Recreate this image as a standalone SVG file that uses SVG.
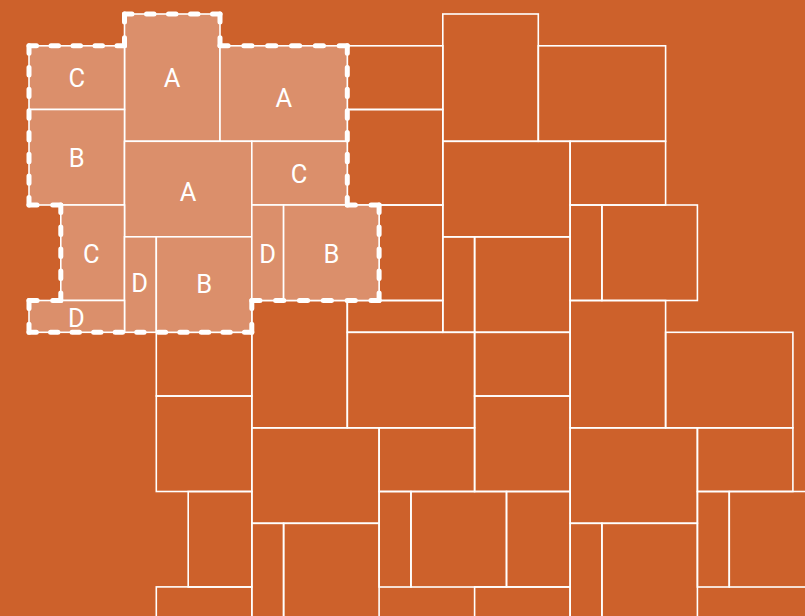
<svg xmlns="http://www.w3.org/2000/svg" width="805" height="616" viewBox="0 0 805 616">
  <style>
    .t { fill: none; stroke: #ffffff; stroke-width: 1.6; }
    .h { fill: #DB8F6B; stroke: #ffffff; stroke-width: 1.6; }
    .dash path { fill: none; stroke: #ffffff; stroke-width: 5; stroke-linecap: round; stroke-dasharray: 7.5 14.5; }
    .lbl { fill: #ffffff; font-family: Roboto, "Liberation Sans", sans-serif; font-size: 25.5px; text-anchor: middle; }
  </style>
  <rect x="0" y="0" width="805" height="616" fill="#CD612B"/>

  <g id="copy-10-0">
    <rect class="t" x="442.8" y="14" width="95.5" height="127.3"/>
    <rect class="t" x="538.3" y="45.8" width="127.3" height="95.5"/>
    <rect class="t" x="347.3" y="45.8" width="95.5" height="63.7"/>
    <rect class="t" x="347.3" y="109.5" width="95.5" height="95.5"/>
    <rect class="t" x="442.8" y="141.3" width="127.3" height="95.5"/>
    <rect class="t" x="570.1" y="141.3" width="95.5" height="63.7"/>
    <rect class="t" x="379.1" y="205" width="63.7" height="95.5"/>
    <rect class="t" x="442.8" y="236.8" width="31.8" height="95.5"/>
    <rect class="t" x="474.6" y="236.8" width="95.5" height="95.5"/>
    <rect class="t" x="570.1" y="205" width="31.8" height="95.5"/>
    <rect class="t" x="601.9" y="205" width="95.5" height="95.5"/>
    <rect class="t" x="347.3" y="300.5" width="95.5" height="31.8"/>
  </g>

  <g id="copy-4-9">
    <rect class="t" x="251.8" y="300.5" width="95.5" height="127.3"/>
    <rect class="t" x="347.3" y="332.3" width="127.3" height="95.5"/>
    <rect class="t" x="156.3" y="332.3" width="95.5" height="63.7"/>
    <rect class="t" x="156.3" y="396" width="95.5" height="95.5"/>
    <rect class="t" x="251.8" y="427.8" width="127.3" height="95.5"/>
    <rect class="t" x="379.1" y="427.8" width="95.5" height="63.7"/>
    <rect class="t" x="188.2" y="491.5" width="63.7" height="95.5"/>
    <rect class="t" x="251.8" y="523.3" width="31.8" height="95.5"/>
    <rect class="t" x="283.6" y="523.3" width="95.5" height="95.5"/>
    <rect class="t" x="379.1" y="491.5" width="31.8" height="95.5"/>
    <rect class="t" x="411" y="491.5" width="95.5" height="95.5"/>
    <rect class="t" x="156.3" y="586.9" width="95.5" height="31.8"/>
  </g>

  <g id="copy-14-9">
    <rect class="t" x="570.1" y="300.5" width="95.5" height="127.3"/>
    <rect class="t" x="665.6" y="332.3" width="127.3" height="95.5"/>
    <rect class="t" x="474.6" y="332.3" width="95.5" height="63.7"/>
    <rect class="t" x="474.6" y="396" width="95.5" height="95.5"/>
    <rect class="t" x="570.1" y="427.8" width="127.3" height="95.5"/>
    <rect class="t" x="697.4" y="427.8" width="95.5" height="63.7"/>
    <rect class="t" x="506.5" y="491.5" width="63.7" height="95.5"/>
    <rect class="t" x="570.1" y="523.3" width="31.8" height="95.5"/>
    <rect class="t" x="601.9" y="523.3" width="95.5" height="95.5"/>
    <rect class="t" x="697.4" y="491.5" width="31.8" height="95.5"/>
    <rect class="t" x="729.3" y="491.5" width="95.5" height="95.5"/>
    <rect class="t" x="474.6" y="586.9" width="95.5" height="31.8"/>
  </g>

  <g id="highlight">
    <g id="tile-A1"><rect class="h" x="124.5" y="14" width="95.5" height="127.3"/><text class="lbl" x="172" y="87.3">A</text></g>
    <g id="tile-A2"><rect class="h" x="220" y="45.8" width="127.3" height="95.5"/><text class="lbl" x="283.7" y="107.3">A</text></g>
    <g id="tile-C1"><rect class="h" x="29" y="45.8" width="95.5" height="63.7"/><text class="lbl" x="76.7" y="87">C</text></g>
    <g id="tile-B1"><rect class="h" x="29" y="109.5" width="95.5" height="95.5"/><text class="lbl" x="76.7" y="166.7">B</text></g>
    <g id="tile-A3"><rect class="h" x="124.5" y="141.3" width="127.3" height="95.5"/><text class="lbl" x="188" y="200.7">A</text></g>
    <g id="tile-C2"><rect class="h" x="251.8" y="141.3" width="95.5" height="63.7"/><text class="lbl" x="299" y="183">C</text></g>
    <g id="tile-C3"><rect class="h" x="60.8" y="205" width="63.7" height="95.5"/><text class="lbl" x="91.3" y="263">C</text></g>
    <g id="tile-D1"><rect class="h" x="124.5" y="236.8" width="31.8" height="95.5"/><text class="lbl" x="139.7" y="291.7">D</text></g>
    <g id="tile-B2"><rect class="h" x="156.3" y="236.8" width="95.5" height="95.5"/><text class="lbl" x="204.2" y="293.3">B</text></g>
    <g id="tile-D2"><rect class="h" x="251.8" y="205" width="31.8" height="95.5"/><text class="lbl" x="267.7" y="263.3">D</text></g>
    <g id="tile-B3"><rect class="h" x="283.6" y="205" width="95.5" height="95.5"/><text class="lbl" x="331.5" y="263.3">B</text></g>
    <g id="tile-D3"><rect class="h" x="29" y="300.5" width="95.5" height="31.8"/><text class="lbl" x="76.3" y="326.7">D</text></g>
  </g>

  <g id="outline" class="dash">
    <path d="M29,45.8 L124.5,45.8" pathLength="95.5"/>
    <path d="M124.5,45.8 L124.5,14" pathLength="29.5"/>
    <path d="M124.5,14 L220,14" pathLength="95.5"/>
    <path d="M220,14 L220,45.8" pathLength="29.5"/>
    <path d="M220,45.8 L347.3,45.8" pathLength="117.5"/>
    <path d="M347.3,45.8 L347.3,205" pathLength="161.5"/>
    <path d="M347.3,205 L379.1,205" pathLength="29.5"/>
    <path d="M379.1,205 L379.1,300.5" pathLength="95.5"/>
    <path d="M379.1,300.5 L251.8,300.5" pathLength="117.5"/>
    <path d="M251.8,300.5 L251.8,332.3" pathLength="29.5"/>
    <path d="M251.8,332.3 L29,332.3" pathLength="227.5"/>
    <path d="M29,332.3 L29,300.5" pathLength="29.5"/>
    <path d="M29,300.5 L60.8,300.5" pathLength="29.5"/>
    <path d="M60.8,300.5 L60.8,205" pathLength="95.5"/>
    <path d="M60.8,205 L29,205" pathLength="29.5"/>
    <path d="M29,205 L29,45.8" pathLength="161.5"/>
  </g>
</svg>
